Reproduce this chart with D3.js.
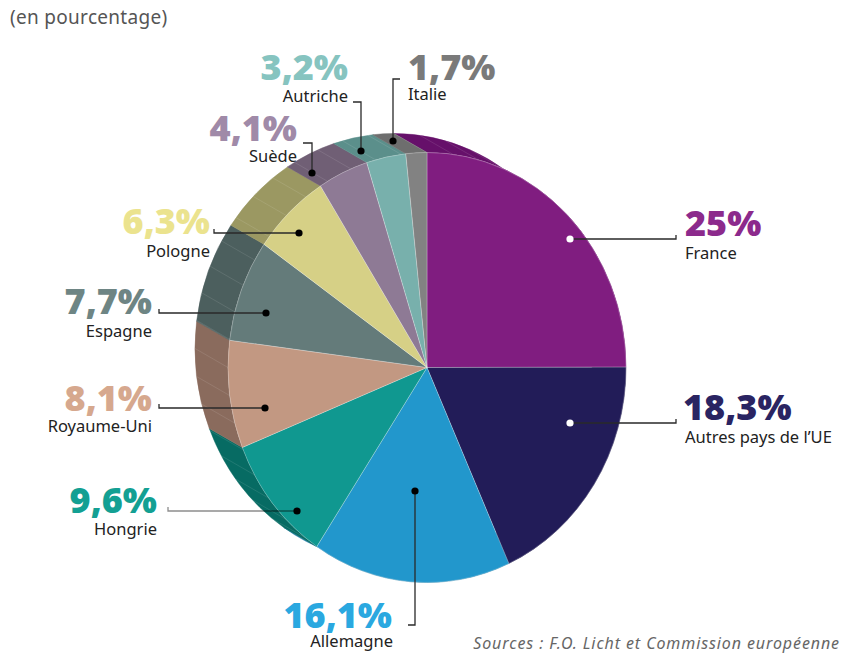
<!DOCTYPE html>
<html><head><meta charset="utf-8">
<script src="https://cdn.jsdelivr.net/npm/d3@7"></script>
<style>html,body{margin:0;padding:0;background:#fff;}</style>
</head><body>
<svg id="chart" width="844" height="654"></svg>
<script>
const categories = ["France","Autres pays de l’UE","Allemagne","Hongrie","Royaume-Uni","Espagne","Pologne","Suède","Autriche","Italie"];
const values = [25,18.3,16.1,9.6,8.1,7.7,6.3,4.1,3.2,1.7];
const valueLabels = ["25%","18,3%","16,1%","9,6%","8,1%","7,7%","6,3%","4,1%","3,2%","1,7%"];
const faceColors = ["#801d80","#221c58","#2297cc","#109890","#c29882","#647b7a","#d6d086","#8e7a95","#78b0ac","#828282"];
const sideColors = ["#66106a","#181444","#1a78a3","#076b63","#8a6b5d","#4c5f5e","#9b9862","#705f75","#5b8f8b","#6e6e6e"];
const labelColors = ["#8c2a8c","#2a2462","#2aa8e0","#13a093","#d6a88e","#6e8584","#ebe38e","#a08aa8","#86c4c0","#7a7a7a"];

// annotation layout (dot, leader line, text anchors)
const layout = [
  {dot:[570,239], line:[[570,239],[676,239],[676,235]], pct:[685,236,"start"], name:[685,259,"start"], dotFill:"#fff"},
  {dot:[570,423], line:[[570,423],[676,423],[676,419]], pct:[683,420,"start"], name:[685,443,"start"], dotFill:"#fff"},
  {dot:[415,491], line:[[415,491],[415,625],[408,625]], pct:[392,628,"end"], name:[393,647,"end"]},
  {dot:[297,511], line:[[297,511],[168,511],[168,507]], pct:[157,513,"end"], name:[157,535,"end"], stroke:"rgba(0,0,0,0.45)"},
  {dot:[265,408], line:[[265,408],[159,408],[159,404]], pct:[152,411,"end"], name:[152,432,"end"]},
  {dot:[266,313], line:[[266,313],[159,313],[159,309]], pct:[152,314,"end"], name:[152,337,"end"]},
  {dot:[299,233], line:[[299,233],[214,233],[214,229]], pct:[210,234,"end"], name:[210,257,"end"]},
  {dot:[312,173], line:[[312,173],[312,143],[303,143]], pct:[297,141,"end"], name:[297,162,"end"]},
  {dot:[361,151], line:[[361,151],[361,102],[353,102]], pct:[348,80,"end"], name:[348,102,"end"]},
  {dot:[393,141], line:[[393,141],[393,79],[400,79]], pct:[408,80,"start"], name:[408,100,"start"]}
];

const svg = d3.select("#chart");
const cx = 427, cy = 367.5, R = 199, sy = 215/199;
const off = [-33, -19/sy];

const pie = d3.pie().sort(null).value(d => d).startAngle(0).endAngle(2*Math.PI);
const arcs = pie(values);
const arc = d3.arc().innerRadius(0).outerRadius(R);

const g = svg.append("g").attr("transform", `translate(${cx},${cy}) scale(1,${sy})`);

// side (extrusion) of each slice
function sidePath(a0, a1) {
  const p = d3.path();
  const s0 = a0 - Math.PI/2, s1 = a1 - Math.PI/2;
  p.moveTo(R*Math.cos(s0), R*Math.sin(s0));
  p.arc(0, 0, R, s0, s1);
  p.lineTo(off[0] + R*Math.cos(s1), off[1] + R*Math.sin(s1));
  p.arc(off[0], off[1], R, s1, s0, true);
  p.closePath();
  return p.toString();
}
g.selectAll("path.side").data(arcs).join("path")
  .attr("class","side")
  .attr("d", d => sidePath(d.startAngle, d.endAngle))
  .attr("fill", (d,i) => sideColors[i])
  .attr("stroke", (d,i) => sideColors[i])
  .attr("stroke-width", 0.5)
  .attr("vector-effect","non-scaling-stroke");

// facet lines on the side
const facets = d3.range(0, 360, 7.5).map(a => a*Math.PI/180);
g.selectAll("line.facet").data(facets).join("line")
  .attr("x1", a => R*Math.sin(a)).attr("y1", a => -R*Math.cos(a))
  .attr("x2", a => R*Math.sin(a)+off[0]).attr("y2", a => -R*Math.cos(a)+off[1])
  .attr("stroke","rgba(255,255,255,0.15)").attr("stroke-width",0.7)
  .attr("vector-effect","non-scaling-stroke");

// faces
g.selectAll("path.face").data(arcs).join("path")
  .attr("class","face")
  .attr("d", arc)
  .attr("fill", (d,i) => faceColors[i])
  .attr("stroke","rgba(255,255,255,0.35)")
  .attr("stroke-width",0.7)
  .attr("vector-effect","non-scaling-stroke");

// subtitle
svg.append("text").attr("x",10).attr("y",24)
  .attr("font-family","'Noto Sans', sans-serif").attr("font-size",19)
  .attr("letter-spacing",0.3)
  .attr("fill","#555").text("(en pourcentage)");

// leader lines & dots
const lineGen = d3.line();
const ann = svg.append("g");
ann.selectAll("path.leader").data(layout).join("path")
  .attr("class","leader")
  .attr("d", d => lineGen(d.line))
  .attr("fill","none")
  .attr("stroke", d => d.stroke || "#2a2a2a")
  .attr("stroke-width",1.3);
ann.selectAll("circle.dot").data(layout).join("circle")
  .attr("class","dot")
  .attr("cx", d => d.dot[0]).attr("cy", d => d.dot[1]).attr("r",3.6)
  .attr("fill", d => d.dotFill || "#000");

// labels
ann.selectAll("text.pct").data(layout).join("text")
  .attr("class","pct")
  .attr("x", d => d.pct[0]).attr("y", d => d.pct[1])
  .attr("text-anchor", d => d.pct[2])
  .attr("font-family","'Open Sans', sans-serif").attr("font-weight",800)
  .attr("font-size",36)
  .attr("fill", (d,i) => labelColors[i])
  .text((d,i) => valueLabels[i]);
ann.selectAll("text.name").data(layout).join("text")
  .attr("class","name")
  .attr("x", d => d.name[0]).attr("y", d => d.name[1])
  .attr("text-anchor", d => d.name[2])
  .attr("font-family","'Noto Sans', sans-serif")
  .attr("font-size",16.5)
  .attr("fill","#222")
  .text((d,i) => categories[i]);

// source
svg.append("text").attr("x",840).attr("y",649).attr("text-anchor","end")
  .attr("font-family","'Noto Sans', sans-serif").attr("font-style","italic")
  .attr("font-size",16).attr("letter-spacing",0.9).attr("fill","#666")
  .text("Sources : F.O. Licht et Commission européenne");
</script>
</body></html>
